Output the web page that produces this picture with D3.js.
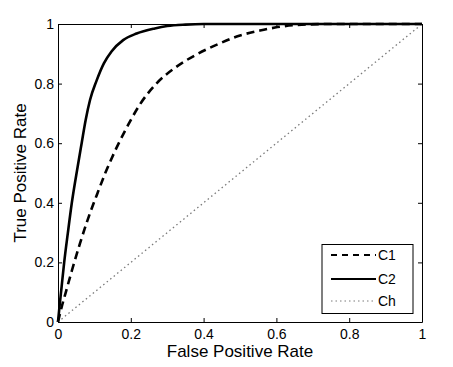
<!DOCTYPE html>
<html>
<head>
<meta charset="utf-8">
<script src="https://cdn.jsdelivr.net/npm/d3@7"></script>
<style>
html,body{margin:0;padding:0;background:#fff;}
svg text{font-family:"Liberation Sans",Arial,Helvetica,sans-serif;fill:#000;}
.ylab{opacity:0.999;}
</style>
</head>
<body>
<svg id="chart" width="453" height="367"></svg>
<script>
const xTicks = [0, 0.2, 0.4, 0.6, 0.8, 1];
const yTicks = [0, 0.2, 0.4, 0.6, 0.8, 1];
const tickLabels = ["0", "0.2", "0.4", "0.6", "0.8", "1"];

const c1Fpr = [0, 0.010, 0.021, 0.038, 0.060, 0.079, 0.109, 0.131, 0.161, 0.193, 0.225, 0.271, 0.326, 0.381, 0.445, 0.491, 0.555, 0.596, 0.65, 0.75, 1];
const c1Tpr = [0, 0.050, 0.098, 0.172, 0.262, 0.334, 0.434, 0.503, 0.585, 0.662, 0.730, 0.801, 0.857, 0.898, 0.935, 0.958, 0.978, 0.988, 0.996, 1, 1];

const c2Fpr = [0, 0.004, 0.010, 0.017, 0.027, 0.038, 0.054, 0.065, 0.076, 0.088, 0.106, 0.126, 0.147, 0.179, 0.216, 0.266, 0.30, 0.35, 0.4, 0.6, 1];
const c2Tpr = [0, 0.050, 0.119, 0.200, 0.298, 0.400, 0.521, 0.600, 0.678, 0.745, 0.810, 0.868, 0.908, 0.946, 0.968, 0.985, 0.993, 0.998, 1, 1, 1];

const chFpr = [0, 1];
const chTpr = [0, 1];

const seriesNames = ["C1", "C2", "Ch"];

const margin = {left: 58, top: 24, right: 31, bottom: 45};
const W = 453, H = 367;
const svg = d3.select("#chart");
const x = d3.scaleLinear().domain([0, 1]).range([margin.left, W - margin.right]);
const y = d3.scaleLinear().domain([0, 1]).range([H - margin.bottom, margin.top]);

const fmt = d => tickLabels[xTicks.indexOf(d)];

const line = d3.line().x(d => x(d[0])).y(d => y(d[1])).curve(d3.curveMonotoneX);
const zip = (a, b) => a.map((v, i) => [v, b[i]]);

const styles = {
  C1: {stroke: "#000", width: 2.6, dash: "8,5"},
  C2: {stroke: "#000", width: 2.6, dash: null},
  Ch: {stroke: "#7a7a7a", width: 1.3, dash: "1.5,3"}
};
const data = {C1: zip(c1Fpr, c1Tpr), C2: zip(c2Fpr, c2Tpr), Ch: zip(chFpr, chTpr)};

const plot = svg.append("g");
seriesNames.forEach(n => {
  plot.append("path").datum(data[n]).attr("d", line)
    .attr("fill", "none").attr("stroke", styles[n].stroke)
    .attr("stroke-width", styles[n].width)
    .attr("stroke-dasharray", styles[n].dash);
});

// axes
const gB = svg.append("g").attr("transform", `translate(0,${y(0)})`)
  .call(d3.axisBottom(x).tickValues(xTicks).tickFormat(fmt).tickSizeInner(-4).tickSizeOuter(0).tickPadding(7));
const gL = svg.append("g").attr("transform", `translate(${x(0)},0)`)
  .call(d3.axisLeft(y).tickValues(yTicks).tickFormat(fmt).tickSizeInner(-4).tickSizeOuter(0).tickPadding(4));
const gT = svg.append("g").attr("transform", `translate(0,${y(1)})`)
  .call(d3.axisTop(x).tickValues(xTicks).tickFormat("").tickSizeInner(-4).tickSizeOuter(0));
const gR = svg.append("g").attr("transform", `translate(${x(1)},0)`)
  .call(d3.axisRight(y).tickValues(yTicks).tickFormat("").tickSizeInner(-4).tickSizeOuter(0));
[gB, gL, gT, gR].forEach(g => {
  g.selectAll("text").style("font-size", "14px").attr("fill", "#000");
  g.selectAll("path,line").attr("stroke", "#000").attr("stroke-width", 1);
  g.attr("font-family", null).attr("font-size", null);
});

// labels
svg.append("text").attr("x", (x(0) + x(1)) / 2).attr("y", 357)
  .attr("text-anchor", "middle").style("font-size", "17px").attr("fill", "#000").text("False Positive Rate");
svg.append("text").attr("class", "ylab").attr("transform", `translate(25.5,${(y(0) + y(1)) / 2}) rotate(-90)`)
  .attr("text-anchor", "middle").style("font-size", "17px").attr("fill", "#000").text("True Positive Rate");

// legend
const lg = svg.append("g");
lg.append("rect").attr("x", 322).attr("y", 244.5).attr("width", 91).attr("height", 69)
  .attr("fill", "#fff").attr("stroke", "#000").attr("stroke-width", 1);
const rowsY = [255, 279, 301];
seriesNames.forEach((n, i) => {
  lg.append("line").attr("x1", 331).attr("x2", 376).attr("y1", rowsY[i]).attr("y2", rowsY[i])
    .attr("stroke", styles[n].stroke).attr("stroke-width", n === "Ch" ? 1 : 2.2)
    .attr("stroke-dasharray", n === "C1" ? "6,5" : styles[n].dash);
  lg.append("text").attr("x", 378).attr("y", rowsY[i] + 5).style("font-size", "14px").attr("fill", "#000").text(n);
});
</script>
</body>
</html>
